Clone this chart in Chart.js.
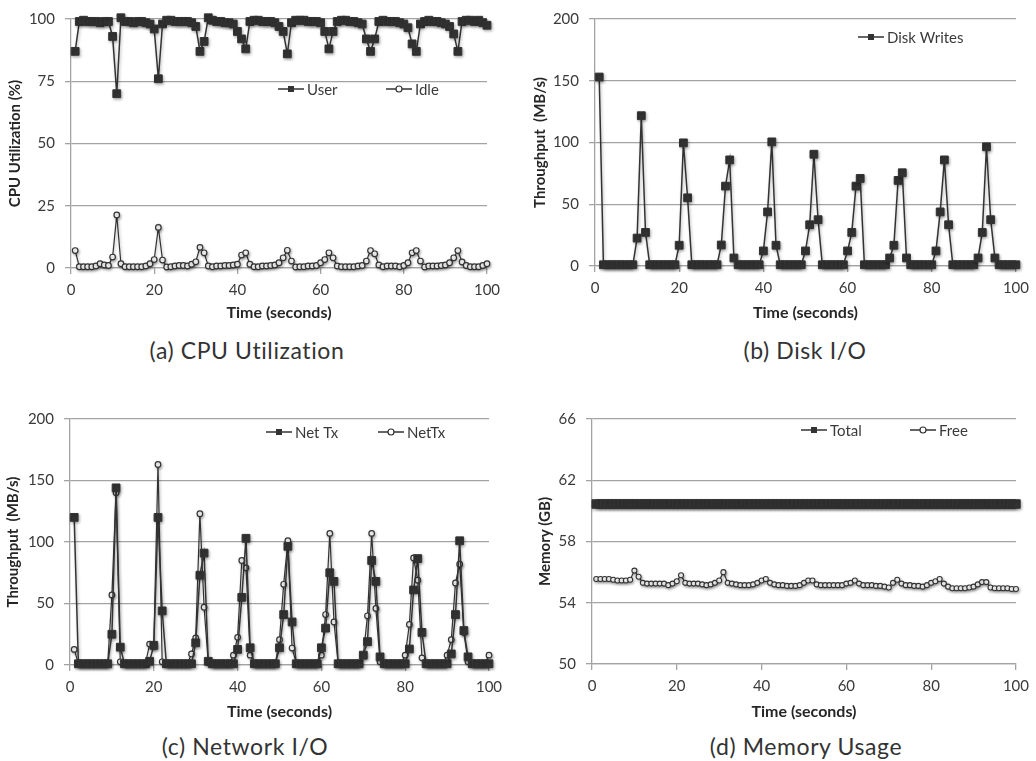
<!DOCTYPE html>
<html><head><meta charset="utf-8">
<script src="https://cdn.jsdelivr.net/npm/chart.js@4.4.1/dist/chart.umd.min.js"></script>
<style>
html,body{margin:0;padding:0;background:#fff;width:1036px;height:761px;overflow:hidden;}
canvas{position:absolute;}
.cap{position:absolute;font-family:Lato,"Open Sans",sans-serif;font-size:23px;letter-spacing:0.6px;color:#333;transform:translate(-50%,-50%);white-space:nowrap;}
</style></head><body>
<canvas id="cA" style="left:0;top:0" width="518" height="330"></canvas>
<canvas id="cB" style="left:518px;top:0" width="518" height="330"></canvas>
<canvas id="cC" style="left:0;top:400px" width="518" height="330"></canvas>
<canvas id="cD" style="left:518px;top:400px" width="518" height="330"></canvas>
<div class="cap" style="left:247px;top:350px">(a) CPU Utilization</div>
<div class="cap" style="left:805px;top:350px">(b) Disk I/O</div>
<div class="cap" style="left:245px;top:746px">(c) Network I/O</div>
<div class="cap" style="left:806px;top:746px">(d) Memory Usage</div>
<script>
const seconds = [1,2,3,4,5,6,7,8,9,10,11,12,13,14,15,16,17,18,19,20,21,22,23,24,25,26,27,28,29,30,31,32,33,34,35,36,37,38,39,40,41,42,43,44,45,46,47,48,49,50,51,52,53,54,55,56,57,58,59,60,61,62,63,64,65,66,67,68,69,70,71,72,73,74,75,76,77,78,79,80,81,82,83,84,85,86,87,88,89,90,91,92,93,94,95,96,97,98,99,100];
const xTicks = [0,20,40,60,80,100];

const cpuUser = [87,99,99.5,99,99,99,98.5,99,99,93,
 70,100.5,99,99,98.5,99,99,98.5,98,96,
 76,98,99.5,99.5,99,99,99,99,98.5,97,
 87,91,100.5,99.5,99,99,98.5,98.5,98,95,
 92,88,99,99.5,99.5,99,99,99,98.5,97,
 95,86,98.5,99.5,99.5,99.5,99,99,99,98.5,
 95,88,95,99,99.5,99.5,99,99,98.5,98,
 92,87,92,99,99.5,99,99,99,98.5,98,
 96.5,90,87,98,99,99.5,99,99,98.5,98,
 97,94,87,99,99.5,99.5,99,99.5,98.5,97.5];
const cpuIdle = [7,0.5,0.5,0.5,0.5,0.8,1.7,1.2,1,4.4,
 21.3,1.7,0.5,0.5,0.5,0.5,0.5,0.8,1.7,3.4,
 16.3,3.2,0.4,0.5,0.8,1,1,0.8,1.5,2.5,
 8.3,6.1,0.8,0.5,0.8,0.8,1,1,1.2,1.5,
 5.2,6.1,1.5,0.5,0.5,0.8,0.8,1,1.2,2.1,
 4.1,7.1,2.8,0.4,0.5,0.5,0.8,0.8,1,2.1,
 3.4,6.1,4.1,0.8,0.5,0.5,0.5,0.5,0.8,1,
 2.8,7,5.7,1.2,0.5,0.8,0.8,0.8,0.5,1,
 2.1,6.1,7,2.8,0.4,0.8,0.8,0.8,1,1.2,
 2.1,4.1,7,2.4,1,0.5,0.5,0.5,1,1.7];
const diskWrites = [153,1,1,1,1,1,1,1,1,22.6,
 121.7,27.2,1,1,1,1,1,1,1,16.8,
 99.7,55.2,1,1,1,1,1,1,1,17,
 64.7,85.9,6.5,1,1,1,1,1,1,12.2,
 43.8,100.5,16.8,1,1,1,1,1,1,12.2,
 33.4,90.5,37.5,1,1,1,1,1,1,12.2,
 27.2,64.7,70.9,1,1,1,1,1,1,6.5,
 16.8,69.3,75.5,6.5,1,1,1,1,1,1,
 12.2,43.8,85.9,33.4,1,1,1,1,1,1,
 6.5,27.2,96.5,37.5,6.5,1,1,1,1,1];
const netTxA = [120,1,1,1,1,1,1,1,1,25,
 144,14.5,1,1,1,1,1,1,3,16,
 120,44,1,1,1,1,1,1,1,18,
 73,91,3,1,1,1,1,1,1,12.7,
 55,103,14,1,1,1,1,1,1,14,
 41,96.5,35,1,1,1,1,1,1,14,
 30,75,68,1,1,1,1,1,1,8,
 19,85,68,6.6,1,1,1,1,1,1,
 13,61,86.5,26.5,1,1,1,1,1,1,
 9,41,101,28,6.6,1,1,1,1,1];
const netTxB = [12.7,1,1,1,1,1,1,1,1,57,
 140,2.6,1,1,1,1,1,1,17,15,
 163,2.6,1,1,1,1,1,1,9,22,
 123,47,2,1,1,1,1,1,8,22.5,
 85,79,8,1,1,1,1,1,1,20.6,
 65.6,101,13.8,1,1,1,1,1,1,8,
 41,107,35,1,1,1,1,1,1,8,
 40,107,46,2.6,1,1,1,1,1,8,
 33,87,69,5.8,1,1,1,1,1,8,
 20.6,66.7,82,26.5,2.6,1,1,1,1,8];
const memTotal = [60.45,60.45,60.45,60.45,60.45,60.45,60.45,60.45,60.45,60.45,
 60.45,60.45,60.45,60.45,60.45,60.45,60.45,60.45,60.45,60.45,
 60.45,60.45,60.45,60.45,60.45,60.45,60.45,60.45,60.45,60.45,
 60.45,60.45,60.45,60.45,60.45,60.45,60.45,60.45,60.45,60.45,
 60.45,60.45,60.45,60.45,60.45,60.45,60.45,60.45,60.45,60.45,
 60.45,60.45,60.45,60.45,60.45,60.45,60.45,60.45,60.45,60.45,
 60.45,60.45,60.45,60.45,60.45,60.45,60.45,60.45,60.45,60.45,
 60.45,60.45,60.45,60.45,60.45,60.45,60.45,60.45,60.45,60.45,
 60.45,60.45,60.45,60.45,60.45,60.45,60.45,60.45,60.45,60.45,
 60.45,60.45,60.45,60.45,60.45,60.45,60.45,60.45,60.45,60.45];
const memFree = [55.55,55.55,55.55,55.55,55.5,55.45,55.45,55.45,55.5,56.1,
 55.7,55.3,55.25,55.25,55.25,55.25,55.25,55.15,55.25,55.4,
 55.8,55.3,55.25,55.25,55.25,55.2,55.15,55.2,55.3,55.45,
 56.0,55.3,55.25,55.2,55.15,55.15,55.15,55.2,55.3,55.45,
 55.55,55.3,55.2,55.15,55.15,55.1,55.1,55.1,55.15,55.3,
 55.45,55.45,55.2,55.15,55.15,55.15,55.15,55.15,55.15,55.25,
 55.3,55.45,55.25,55.15,55.15,55.15,55.1,55.1,55.05,55.0,
 55.3,55.5,55.25,55.15,55.15,55.1,55.1,55.05,55.15,55.3,
 55.4,55.55,55.25,55.05,54.95,54.95,54.95,54.95,55.0,55.05,
 55.2,55.35,55.35,55.0,54.95,54.95,54.95,54.95,54.9,54.9];

const INK = '#333333', GRID = '#a3a3a3', TXT = '#3a3a3a';
const FONT = 'Lato, "Open Sans", sans-serif';

function sq(label, data, extra) {
  return Object.assign({label, data, borderColor: INK, borderWidth: 1.5, pointStyle: 'rect',
    pointRadius: 5.5, pointBackgroundColor: INK, pointBorderColor: INK, pointBorderWidth: 1,
    fill: false, tension: 0, clip: false, legendRadius: 4}, extra || {});
}
function circ(label, data, extra) {
  return Object.assign({label, data, borderColor: INK, borderWidth: 1.2, pointStyle: 'circle',
    pointRadius: 2.8, pointBackgroundColor: '#ffffff', pointBorderColor: INK, pointBorderWidth: 1.2,
    fill: false, tension: 0, clip: false, legendRadius: 3}, extra || {});
}

const inlineLegend = {
  id: 'inlineLegend',
  afterDraw(chart, args, opts) {
    const ctx = chart.ctx;
    (opts.items || []).forEach((it, i) => {
      const ds = chart.data.datasets[i];
      ctx.save();
      ctx.strokeStyle = INK; ctx.lineWidth = 1.5;
      ctx.beginPath(); ctx.moveTo(it.x, it.y); ctx.lineTo(it.x + 26, it.y); ctx.stroke();
      const cx = it.x + 13, r = ds.legendRadius;
      if (ds.pointStyle === 'rect') {
        ctx.fillStyle = INK;
        ctx.fillRect(cx - r * 0.75, it.y - r * 0.75, r * 1.5, r * 1.5);
      } else {
        ctx.fillStyle = '#fff'; ctx.lineWidth = 1.2;
        ctx.beginPath(); ctx.arc(cx, it.y, r, 0, Math.PI * 2); ctx.fill(); ctx.stroke();
      }
      ctx.fillStyle = TXT; ctx.font = '15px ' + FONT; ctx.textBaseline = 'middle'; ctx.textAlign = 'left';
      ctx.fillText(ds.label, it.x + 29, it.y + 1);
      ctx.restore();
    });
  }
};
const softShadow = {
  id: 'softShadow',
  beforeDatasetDraw(chart) { const c = chart.ctx; c.save(); c.shadowColor = 'rgba(0,0,0,0.3)'; c.shadowBlur = 3; c.shadowOffsetX = 1; c.shadowOffsetY = 1.5; },
  afterDatasetDraw(chart) { chart.ctx.restore(); }
};

function panel(id, o) {
  return new Chart(document.getElementById(id), {
    type: 'line',
    data: { labels: seconds, datasets: o.datasets },
    options: {
      responsive: false, animation: false, devicePixelRatio: 1,
      layout: { padding: o.pad },
      events: [],
      plugins: { legend: { display: false }, tooltip: { enabled: false }, inlineLegend: { items: o.legend } },
      scales: {
        x: {
          type: 'linear', min: 0, max: 100,
          afterBuildTicks: s => { s.ticks = xTicks.map(v => ({ value: v })); },
          ticks: { padding: 7, color: TXT, font: { family: FONT, size: 15 }, maxRotation: 0 },
          grid: { display: true, drawOnChartArea: false, drawTicks: true, tickLength: 6, color: GRID, lineWidth: 1.3 },
          border: { display: true, color: GRID, width: 1.3 },
          title: { display: true, text: 'Time (seconds)', color: '#262626', font: { family: FONT, size: 16, weight: 'bold' }, padding: { top: 0, bottom: o.xTitlePad } },
          afterFit: s => { s.height = o.xH; }
        },
        y: {
          min: o.yTicks[0], max: o.yTicks[o.yTicks.length - 1],
          afterBuildTicks: s => { s.ticks = o.yTicks.map(v => ({ value: v })); },
          ticks: { padding: 10, color: TXT, font: { family: FONT, size: 15 } },
          grid: { color: GRID, lineWidth: 1.3, tickLength: 6 },
          border: { display: true, color: GRID, width: 1.3 },
          title: { display: true, text: o.yTitle, color: '#262626', font: { family: FONT, size: 15, weight: 'bold' }, padding: { top: o.yTitlePad, bottom: 0 } },
          afterFit: s => { s.width = o.yW; }
        }
      }
    },
    plugins: [inlineLegend, softShadow]
  });
}

panel('cA', {
  datasets: [sq('User', cpuUser), circ('Idle', cpuIdle)],
  yTicks: [0, 25, 50, 75, 100], yTitle: 'CPU Utilization (%)',
  pad: { left: 0, right: 31, top: 15, bottom: 0 }, yW: 71, xH: 62, xTitlePad: 8, yTitlePad: 6,
  legend: [{ x: 278, y: 89 }, { x: 386, y: 89 }]
});
panel('cB', {
  datasets: [sq('Disk Writes', diskWrites)],
  yTicks: [0, 50, 100, 150, 200], yTitle: 'Throughput  (MB/s)',
  pad: { left: 0, right: 20, top: 16, bottom: 0 }, yW: 77, xH: 64, xTitlePad: 8, yTitlePad: 13,
  legend: [{ x: 340, y: 37 }]
});
panel('cC', {
  datasets: [sq('Net Tx', netTxA), circ('NetTx', netTxB)],
  yTicks: [0, 50, 100, 150, 200], yTitle: 'Throughput  (MB/s)',
  pad: { left: 0, right: 29, top: 15, bottom: 0 }, yW: 70, xH: 65, xTitlePad: 9, yTitlePad: 4,
  legend: [{ x: 266, y: 32 }, { x: 378, y: 32 }]
});
panel('cD', {
  datasets: [sq('Total', memTotal, { borderWidth: 3, pointRadius: 6 }), circ('Free', memFree, { pointRadius: 2.5, pointBorderWidth: 1.1 })],
  yTicks: [50, 54, 58, 62, 66], yTitle: 'Memory (GB)',
  pad: { left: 0, right: 17, top: 11, bottom: 0 }, yW: 74, xH: 66, xTitlePad: 9, yTitlePad: 18,
  legend: [{ x: 283, y: 30 }, { x: 392, y: 30 }]
});
</script>
</body></html>
